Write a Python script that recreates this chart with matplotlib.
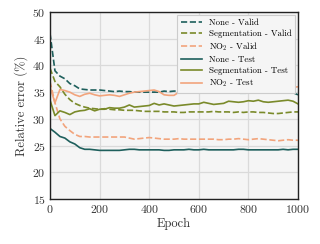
import numpy as np
import matplotlib
matplotlib.use("Agg")
import matplotlib.pyplot as plt

plt.rcParams["font.family"] = "cmr10"
plt.rcParams["mathtext.fontset"] = "cm"
plt.rcParams["axes.formatter.use_mathtext"] = True

# epochs sampled every 20
epochs = np.arange(0, 1001, 20)

none_valid = [46.0, 39.0, 38.0, 37.5, 36.6, 36.2, 35.6, 35.5, 35.4, 35.4,
              35.4, 35.3, 35.2, 35.1, 35.2, 35.1, 35.1, 35.0, 35.0, 35.0,
              35.0, 35.0, 35.0, 35.2, 35.1, 35.2, 35.2, 35.1, 35.2, 35.2,
              35.2, 35.1, 35.1, 35.0, 35.0, 35.0, 35.0, 34.9, 34.8, 34.8,
              34.8, 35.0, 34.9, 35.0, 35.0, 35.0, 35.0, 35.1, 35.2, 34.9,
              34.5]
seg_valid = [39.5, 37.0, 36.0, 34.6, 33.6, 32.9, 32.5, 32.2, 32.0, 31.9,
             31.8, 31.9, 31.8, 31.7, 31.7, 31.6, 31.6, 31.6, 31.5, 31.4,
             31.4, 31.4, 31.4, 31.3, 31.3, 31.3, 31.2, 31.2, 31.3, 31.3,
             31.3, 31.3, 31.3, 31.4, 31.3, 31.3, 31.3, 31.2, 31.3, 31.2,
             31.3, 31.3, 31.2, 31.2, 31.1, 31.0, 31.0, 31.1, 31.2, 31.3,
             31.3]
no2_valid = [37.0, 33.0, 30.0, 28.6, 27.8, 27.1, 26.7, 26.7, 26.6, 26.6,
             26.6, 26.6, 26.6, 26.6, 26.6, 26.6, 26.4, 26.2, 26.3, 26.4,
             26.5, 26.4, 26.3, 26.2, 26.2, 26.2, 26.3, 26.2, 26.2, 26.2,
             26.2, 26.2, 26.2, 26.2, 26.1, 26.1, 26.2, 26.2, 26.3, 26.2,
             26.1, 26.2, 26.3, 26.2, 26.1, 26.0, 25.9, 26.0, 26.1, 26.0,
             26.0]
none_test = [28.2, 27.5, 26.7, 26.4, 25.7, 25.3, 24.6, 24.3, 24.3, 24.2,
             24.1, 24.1, 24.1, 24.1, 24.1, 24.2, 24.3, 24.3, 24.2, 24.2,
             24.2, 24.2, 24.2, 24.1, 24.1, 24.2, 24.2, 24.2, 24.3, 24.2,
             24.2, 24.3, 24.2, 24.2, 24.2, 24.2, 24.2, 24.2, 24.3, 24.3,
             24.2, 24.2, 24.2, 24.2, 24.2, 24.2, 24.2, 24.3, 24.2, 24.3,
             24.3]
seg_test = [33.5, 30.6, 31.5, 31.2, 30.8, 31.3, 31.5, 31.6, 31.9, 31.5,
            31.8, 31.8, 32.1, 32.0, 32.0, 32.2, 32.6, 32.2, 32.3, 32.4,
            32.5, 32.9, 32.6, 32.8, 32.6, 32.4, 32.5, 32.6, 32.7, 32.8,
            32.8, 33.1, 32.9, 32.7, 32.8, 32.9, 33.3, 33.2, 33.1, 33.2,
            33.4, 33.3, 33.5, 33.2, 33.1, 33.2, 33.3, 33.4, 33.5, 33.3,
            32.8]
no2_test = [36.0, 33.0, 35.5, 35.3, 35.0, 34.5, 34.2, 34.6, 34.8, 34.5,
            34.3, 34.4, 34.5, 34.4, 34.2, 34.5, 34.8, 35.0, 35.1, 35.2,
            35.3, 35.4, 35.1, 34.5, 34.4, 34.4, 35.0, 35.0, 35.1, 35.1,
            35.2, 35.3, 35.3, 35.4, 35.4, 35.4, 35.5, 35.6, 35.8, 35.7,
            36.2, 35.9, 36.2, 36.0, 35.9, 35.7, 35.8, 36.0, 35.8, 35.9,
            36.0]

teal = "#1e5f5c"
olive = "#7a8a2a"
salmon = "#f2a47c"

fig = plt.figure(figsize=(3.2, 2.44), dpi=100)
ax = fig.add_axes([50/320, 1 - 199/244, 248/320, 187/244])
ax.set_facecolor("#f5f5f5")
ax.grid(True, color="#dadada", lw=0.9)
ax.set_axisbelow(True)
for s in ax.spines.values():
    s.set_color("#222222")
    s.set_linewidth(1.0)

kw = dict(lw=1.2)
ax.plot(epochs, none_valid, "--", color=teal, label="None - Valid", **kw)
ax.plot(epochs, seg_valid, "--", color=olive, label="Segmentation - Valid", **kw)
ax.plot(epochs, no2_valid, "--", color=salmon, label="NO$_2$ - Valid", **kw)
ax.plot(epochs, none_test, "-", color=teal, label="None - Test", **kw)
ax.plot(epochs, seg_test, "-", color=olive, label="Segmentation - Test", **kw)
ax.plot(epochs, no2_test, "-", color=salmon, label="NO$_2$ - Test", **kw)

ax.set_xlim(0, 1000)
ax.set_ylim(15, 50)
ax.set_xticks([0, 200, 400, 600, 800, 1000])
ax.set_yticks([15, 20, 25, 30, 35, 40, 45, 50])
ax.tick_params(labelsize=8.5, length=0, pad=3, colors="#333333")
ax.set_xlabel("Epoch", fontsize=9, color="#333333", labelpad=2)
ax.set_ylabel("Relative error (%)", fontsize=9, color="#333333", labelpad=3)

leg = ax.legend(loc="upper right", fontsize=6.4, frameon=True, fancybox=False,
                edgecolor="#cccccc", facecolor="#f5f5f5", framealpha=1,
                handlelength=2.4, labelspacing=0.3, borderpad=0.4,
                borderaxespad=0.3)
leg.get_frame().set_linewidth(0.8)

fig.savefig("out.png", dpi=100)
